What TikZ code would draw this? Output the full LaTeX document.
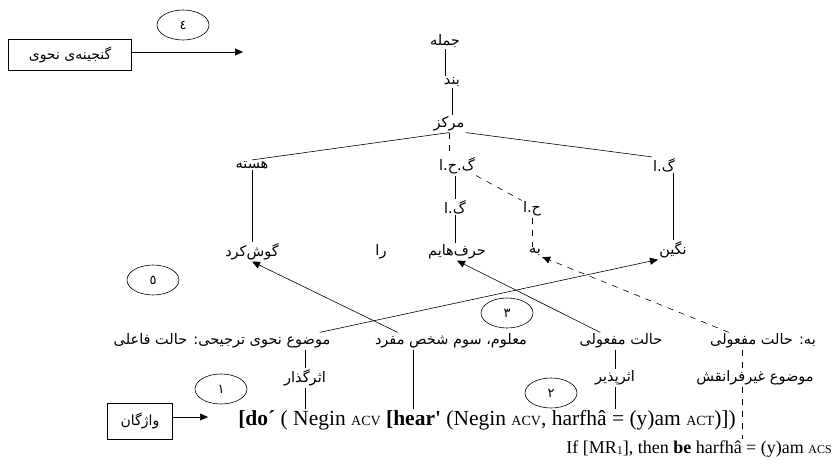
\documentclass[tikz,border=0pt]{standalone}
\usepackage{fontspec}
\setmainfont{Liberation Serif}
\newfontfamily\arabicfont[Script=Arabic]{DejaVu Sans}
\TeXXeTstate=1
\usetikzlibrary{arrows.meta,shapes.geometric}
\newcommand{\rl}[1]{\beginR #1\endR}
\newcommand{\sm}[1]{{\fontsize{14}{16}\selectfont #1}}
\tikzset{
  lbl/.style={font=\arabicfont\fontsize{14.5}{16}\selectfont, inner sep=1pt},
  num/.style={draw, ellipse, minimum width=52, minimum height=30, inner sep=0pt, font=\arabicfont\fontsize{13}{15}\selectfont},
  box/.style={draw, rectangle, inner sep=0pt, font=\arabicfont\fontsize{14}{16}\selectfont},
  frmla/.style={inner sep=1pt, font=\fontsize{21.5}{23}\selectfont},
  arr/.style={-{Triangle[length=8pt,width=7pt]}},
  dsh/.style={dash pattern=on 6pt off 6pt},
}
\begin{document}
\begin{tikzpicture}[x=1pt,y=-1pt,line width=0.6pt]
\useasboundingbox (0,0) rectangle (837,468);
\node[box,minimum width=123,minimum height=31] (ganj) at (70,55) {\rl{گنجینه‌ی نحوی}};
\node[num] (n4) at (183,25) {\rl{٤}};
\coordinate (g4) at (243,52);
\path[draw,arr] (ganj.east |- g4) -- (g4);
\node[lbl] (jomle) at (445,41) {\rl{جمله}};
\node[lbl] (band) at (452,82) {\rl{بند}};
\node[lbl] (markaz) at (449,124) {\rl{مرکز}};
\node[lbl] (haste) at (252,165) {\rl{هسته}};
\node[lbl] (gha) at (457,166) {\rl{گ.ح.ا}};
\node[lbl] (ga) at (664,165) {\rl{گ.ا}};
\node[lbl] (gb) at (455,207) {\rl{گ.ا}};
\node[lbl] (ha) at (532,209) {\rl{ح.ا}};
\node[lbl] (gush) at (252,252) {\rl{گوش‌کرد}};
\node[lbl] (ra) at (381,252) {\rl{را}};
\node[lbl] (harf) at (457,252) {\rl{حرف‌هایم}};
\node[lbl] (be) at (535,252) {\rl{به}};
\node[lbl] (negin) at (673,250) {\rl{نگین}};
\path[draw] (jomle.south) -- (jomle.south |- band.north);
\path[draw] (band.south) -- (band.south |- markaz.north);
\path[draw] (markaz.south) -- (haste.north);
\path[draw] (markaz.south east) -- (ga.north west);
\path[draw,dsh] (markaz.south) -- (markaz.south |- gha.north);
\path[draw] (gb.north |- gha.south) -- (gb.north);
\path[draw,dsh] (gha.south east) -- (ha.north west);
\path[draw] (gb.south) -- (gb.south |- harf.north);
\path[draw,dsh] (ha.south) -- (ha.south |- be.north);
\path[draw] (haste.south) -- (haste.south |- gush.north);
\path[draw] (negin.north |- ga.south) -- (negin.north);
\node[lbl] (mowzu) at (222,341) {\rl{موضوع نحوی ترجیحی: حالت فاعلی}};
\node[lbl] (malum) at (451,341) {\rl{معلوم، سوم شخص مفرد}};
\node[lbl] (halat) at (621,341) {\rl{حالت مفعولی}};
\node[lbl] (behalat) at (763,341) {\rl{به: حالت مفعولی}};
\node[num] (n5) at (153,280) {\rl{٥}};
\node[num] (n3) at (507,313) {\rl{٣}};
\path[draw,arr] ([xshift=-12]mowzu.north east) -- (negin.south west);
\path[draw,arr] ([xshift=24]malum.north west) -- (gush.south);
\path[draw,arr] ([xshift=22]halat.north west) -- (harf.south);
\path[draw,arr,dsh] ([xshift=20]behalat.north west) -- (be.south east);
\node[lbl] (gozar) at (305,378) {\rl{اثرگذار}};
\node[lbl] (pazir) at (615,378) {\rl{اثرپذیر}};
\node[lbl] (gheyr) at (755,378) {\rl{موضوع غیرفرانقش}};
\node[num] (n1) at (221,389) {\rl{١}};
\node[num] (n2) at (551,393) {\rl{٢}};
\node[frmla,anchor=west] (frm) at (237,420) {\textbf{[do´} ( Negin \sm{ACV} \textbf{[hear\textquotesingle} (Negin \sm{ACV}, harfhâ = (y)am \sm{ACT})])};
\node[frmla,anchor=east,font=\fontsize{18}{20}\selectfont] (ifl) at (833,449) {If [MR{\fontsize{12}{14}\selectfont\raisebox{-1pt}{1}}], then \textbf{be} harfhâ = (y)am {\fontsize{12}{14}\selectfont ACS}};
\node[box,minimum width=65,minimum height=36] (vazh) at (140,421) {\rl{واژگان}};
\coordinate (v1) at (208,417);
\path[draw,arr] (vazh.east |- v1) -- (v1);
\path[draw] (gozar.north |- mowzu.south) -- (gozar.north);
\path[draw] (gozar.south) -- (gozar.south |- frm.north);
\path[draw] ([xshift=-38]malum.south) -- ([xshift=-38]malum.south |- frm.north);
\path[draw] (pazir.north |- halat.south) -- (pazir.north);
\path[draw] (pazir.south) -- (pazir.south |- frm.north);
\path[draw,dsh] ([xshift=-13]gheyr.north |- behalat.south) -- ([xshift=-13]gheyr.north);
\path[draw,dsh] ([xshift=-13]gheyr.south) -- ([xshift=-13]gheyr.south |- ifl.north);
\end{tikzpicture}
\end{document}
